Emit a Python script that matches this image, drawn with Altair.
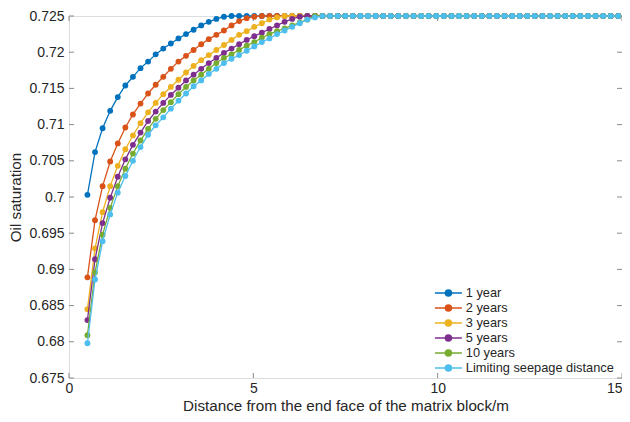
import altair as alt
import pandas as pd

# ---------------- data ----------------
x_start = 0.5
x_step = 0.2057
n_points = 71
x_values = [round(x_start + k * x_step, 4) for k in range(n_points)]

series_names = ["1 year", "2 years", "3 years", "5 years", "10 years",
                "Limiting seepage distance"]
series_colors = ["#0072BD", "#D95319", "#EDB120", "#7E2F8E", "#77AC30", "#4DBEEE"]

y_1year = [0.7003, 0.7062, 0.7095, 0.7119, 0.7138, 0.7154, 0.7166, 0.7178, 0.7187, 0.7197,
           0.7205, 0.7212, 0.7219, 0.7225, 0.7231, 0.7237, 0.7242, 0.7246, 0.7249, 0.725,
           0.725, 0.725, 0.725, 0.725, 0.725, 0.725, 0.725, 0.725, 0.725, 0.725,
           0.725, 0.725, 0.725, 0.725, 0.725, 0.725, 0.725, 0.725, 0.725, 0.725,
           0.725, 0.725, 0.725, 0.725, 0.725, 0.725, 0.725, 0.725, 0.725, 0.725,
           0.725, 0.725, 0.725, 0.725, 0.725, 0.725, 0.725, 0.725, 0.725, 0.725,
           0.725, 0.725, 0.725, 0.725, 0.725, 0.725, 0.725, 0.725, 0.725, 0.725,
           0.725]
y_2years = [0.6889, 0.6968, 0.7015, 0.7049, 0.7074, 0.7096, 0.7114, 0.7129, 0.7143, 0.7155,
            0.7166, 0.7177, 0.7187, 0.7195, 0.7203, 0.7211, 0.7218, 0.7224, 0.7230, 0.7237,
            0.7243, 0.7247, 0.7249, 0.725, 0.725, 0.725, 0.725, 0.725, 0.725, 0.725,
            0.725, 0.725, 0.725, 0.725, 0.725, 0.725, 0.725, 0.725, 0.725, 0.725,
            0.725, 0.725, 0.725, 0.725, 0.725, 0.725, 0.725, 0.725, 0.725, 0.725,
            0.725, 0.725, 0.725, 0.725, 0.725, 0.725, 0.725, 0.725, 0.725, 0.725,
            0.725, 0.725, 0.725, 0.725, 0.725, 0.725, 0.725, 0.725, 0.725, 0.725,
            0.725]
y_3years = [0.6845, 0.6929, 0.6979, 0.7015, 0.7043, 0.7066, 0.7085, 0.7102, 0.7117, 0.7130,
            0.7142, 0.7152, 0.7162, 0.7172, 0.7181, 0.7189, 0.7196, 0.7203, 0.7210, 0.7217,
            0.7224, 0.7229, 0.7235, 0.7240, 0.7245, 0.7248, 0.725, 0.725, 0.725, 0.725,
            0.725, 0.725, 0.725, 0.725, 0.725, 0.725, 0.725, 0.725, 0.725, 0.725,
            0.725, 0.725, 0.725, 0.725, 0.725, 0.725, 0.725, 0.725, 0.725, 0.725,
            0.725, 0.725, 0.725, 0.725, 0.725, 0.725, 0.725, 0.725, 0.725, 0.725,
            0.725, 0.725, 0.725, 0.725, 0.725, 0.725, 0.725, 0.725, 0.725, 0.725,
            0.725]
y_5years = [0.6830, 0.6914, 0.6964, 0.6999, 0.7028, 0.7052, 0.7072, 0.7089, 0.7105, 0.7118,
            0.7130, 0.7141, 0.7151, 0.7161, 0.7169, 0.7177, 0.7185, 0.7192, 0.7199, 0.7205,
            0.7211, 0.7217, 0.7222, 0.7227, 0.7232, 0.7237, 0.7242, 0.7246, 0.7249, 0.725,
            0.725, 0.725, 0.725, 0.725, 0.725, 0.725, 0.725, 0.725, 0.725, 0.725,
            0.725, 0.725, 0.725, 0.725, 0.725, 0.725, 0.725, 0.725, 0.725, 0.725,
            0.725, 0.725, 0.725, 0.725, 0.725, 0.725, 0.725, 0.725, 0.725, 0.725,
            0.725, 0.725, 0.725, 0.725, 0.725, 0.725, 0.725, 0.725, 0.725, 0.725,
            0.725]
y_10years = [0.6809, 0.6896, 0.6948, 0.6985, 0.7015, 0.7039, 0.7060, 0.7078, 0.7094, 0.7108,
             0.7120, 0.7131, 0.7142, 0.7152, 0.7161, 0.7169, 0.7177, 0.7185, 0.7192, 0.7197,
             0.7203, 0.7209, 0.7214, 0.7220, 0.7225, 0.7229, 0.7233, 0.7237, 0.7241, 0.7245,
             0.725, 0.725, 0.725, 0.725, 0.725, 0.725, 0.725, 0.725, 0.725, 0.725,
             0.725, 0.725, 0.725, 0.725, 0.725, 0.725, 0.725, 0.725, 0.725, 0.725,
             0.725, 0.725, 0.725, 0.725, 0.725, 0.725, 0.725, 0.725, 0.725, 0.725,
             0.725, 0.725, 0.725, 0.725, 0.725, 0.725, 0.725, 0.725, 0.725, 0.725,
             0.725]
y_limiting = [0.6798, 0.6886, 0.6939, 0.6976, 0.7006, 0.7029, 0.7050, 0.7069, 0.7086, 0.7099,
              0.7110, 0.7122, 0.7133, 0.7143, 0.7153, 0.7161, 0.7170, 0.7177, 0.7185, 0.7191,
              0.7196, 0.7202, 0.7208, 0.7214, 0.7219, 0.7225, 0.7230, 0.7235, 0.7240, 0.7245,
              0.7248, 0.725, 0.725, 0.725, 0.725, 0.725, 0.725, 0.725, 0.725, 0.725,
              0.725, 0.725, 0.725, 0.725, 0.725, 0.725, 0.725, 0.725, 0.725, 0.725,
              0.725, 0.725, 0.725, 0.725, 0.725, 0.725, 0.725, 0.725, 0.725, 0.725,
              0.725, 0.725, 0.725, 0.725, 0.725, 0.725, 0.725, 0.725, 0.725, 0.725,
              0.725]

x_ticks = [0, 5, 10, 15]
y_ticks = [0.675, 0.68, 0.685, 0.69, 0.695, 0.7, 0.705, 0.71, 0.715, 0.72, 0.725]

all_series = [y_1year, y_2years, y_3years, y_5years, y_10years, y_limiting]

rows = []
for name, ys in zip(series_names, all_series):
    for i, (xv, yv) in enumerate(zip(x_values, ys)):
        rows.append({"series": name, "x": xv, "y": yv, "idx": i})
df = pd.DataFrame(rows)

xt_df = pd.DataFrame({"x": x_ticks})
yt_df = pd.DataFrame({"y": y_ticks})

# ---------------- chart ----------------
W, H = 553, 362
FONT = "Liberation Sans"
AX = "#8a8a8a"
TXT = "#262626"

x_scale = alt.Scale(domain=[0, 15], nice=False, zero=False)
y_scale = alt.Scale(domain=[0.675, 0.725], nice=False, zero=False)

x_axis = alt.Axis(values=x_ticks, ticks=False, domain=False, grid=False, format="d",
                  title="Distance from the end face of the matrix block/m",
                  labelFont=FONT, labelFontSize=14, labelColor=TXT, labelPadding=3,
                  labelFlush=False,
                  labelAlign={"condition": {"test": "datum.value >= 15", "value": "right"},
                              "value": "center"},
                  titleFont=FONT, titleFontSize=15.2, titleColor=TXT,
                  titleFontWeight="normal", titleBaseline="alphabetic", titleY=32.6)
y_axis = alt.Axis(values=y_ticks, ticks=False, domain=False, grid=False, format=".3~f",
                  title="Oil saturation",
                  labelFont=FONT, labelFontSize=14, labelColor=TXT, labelPadding=5,
                  titleFont=FONT, titleFontSize=15.2, titleColor=TXT,
                  titleFontWeight="normal", titlePadding=5)

x_enc = alt.X("x:Q", scale=x_scale, axis=x_axis)
y_enc = alt.Y("y:Q", scale=y_scale, axis=y_axis)

legend_kw = dict(
    title=None, orient="none", legendX=373, legendY=270.7, padding=0,
    symbolType="M-3,0L3,0M0.67,0A0.67,0.67,0,1,1,-0.67,0A0.67,0.67,0,1,1,0.67,0Z",
    symbolSize=81, symbolStrokeWidth=1.5, labelOffset=11, symbolOpacity=1,
    labelFont=FONT, labelFontSize=12.8, labelColor=TXT, rowPadding=1.0)

series_scale = alt.Scale(domain=series_names, range=series_colors)
stroke_enc = alt.Stroke("series:N", scale=series_scale, legend=alt.Legend(**legend_kw))
fill_enc = alt.Fill("series:N", scale=series_scale, legend=alt.Legend(**legend_kw))

layers = []
# inward ticks on all four sides
layers.append(alt.Chart(yt_df).mark_rule(color=AX, strokeWidth=1).encode(
    y=y_enc, x=alt.value(0), x2=alt.value(5)))
layers.append(alt.Chart(yt_df).mark_rule(color=AX, strokeWidth=1).encode(
    y=y_enc, x=alt.value(W), x2=alt.value(W - 5)))
layers.append(alt.Chart(xt_df).mark_rule(color=AX, strokeWidth=1).encode(
    x=x_enc, y=alt.value(H), y2=alt.value(H - 5)))
layers.append(alt.Chart(xt_df).mark_rule(color=AX, strokeWidth=1).encode(
    x=x_enc, y=alt.value(0), y2=alt.value(5)))

for name in series_names:
    base = alt.Chart(df).transform_filter(alt.datum.series == name)
    layers.append(base.mark_line(strokeWidth=1.3).encode(
        x=x_enc, y=y_enc, stroke=stroke_enc, order="idx:Q"))
    layers.append(base.mark_circle(size=34, opacity=1, strokeWidth=0).encode(
        x=x_enc, y=y_enc, fill=fill_enc))

chart = alt.layer(*layers).properties(
    width=W, height=H,
    autosize=alt.AutoSizeParams(type="none"),
    padding={"left": 61, "top": 8, "right": 0, "bottom": 36},
).configure_view(stroke=AX, strokeWidth=1).configure(background="white")

chart.save("out.html", embed_options={"renderer": "svg", "actions": False})
